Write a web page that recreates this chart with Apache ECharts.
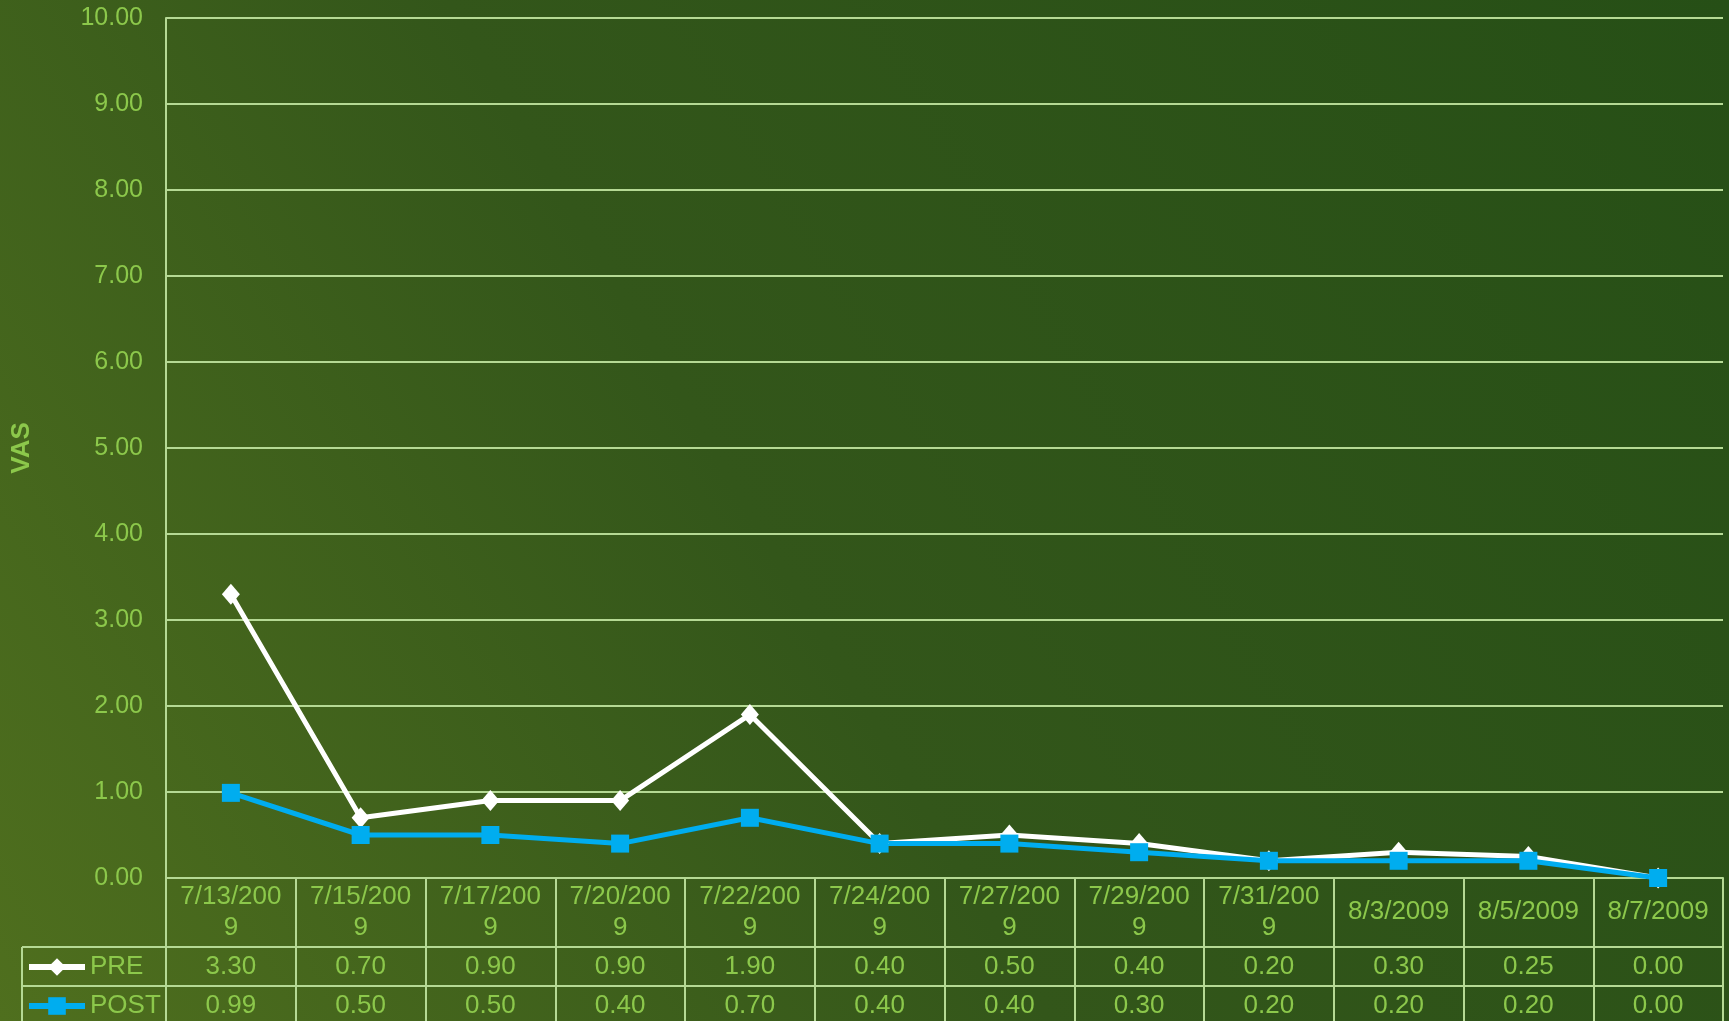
<!DOCTYPE html>
<html>
<head>
<meta charset="utf-8">
<style>
  html, body { margin: 0; padding: 0; background: #2f5418; }
  #chart { width: 1729px; height: 1021px; }
</style>
<script src="https://cdn.jsdelivr.net/npm/echarts@6/dist/echarts.min.js"></script>
</head>
<body>
<div id="chart"></div>
<script>
// data
const dates = ['7/13/2009', '7/15/2009', '7/17/2009', '7/20/2009', '7/22/2009', '7/24/2009',
  '7/27/2009', '7/29/2009', '7/31/2009', '8/3/2009', '8/5/2009', '8/7/2009'];
const pre = [3.30, 0.70, 0.90, 0.90, 1.90, 0.40, 0.50, 0.40, 0.20, 0.30, 0.25, 0.00];
const post = [0.99, 0.50, 0.50, 0.40, 0.70, 0.40, 0.40, 0.30, 0.20, 0.20, 0.20, 0.00];

// look
const TEXT = '#8cc84b';
const RULE = '#b5d994';
const FONT = '"Liberation Sans", Arial, sans-serif';
const GRID = { left: 166, right: 6, top: 18, bottom: 143 };
const ROW1 = 947, ROW2 = 986;   // table row borders (px)

const chart = echarts.init(document.getElementById('chart'));

// x axis used only as a label row of the data table
function tableAxis(values, margin) {
  return {
    type: 'category',
    position: 'bottom',
    data: values.map(v => v.toFixed(2)),
    axisLine: { show: false },
    axisTick: { show: false },
    axisLabel: {
      interval: 0, margin: margin, verticalAlign: 'middle',
      color: TEXT, fontSize: 26, fontFamily: FONT
    }
  };
}

// one legend row of the table
function tableLegend(name, top) {
  return {
    left: 26, top: top, padding: 0,
    itemWidth: 56, itemHeight: 22,
    lineStyle: { width: 6 },
    textStyle: { color: TEXT, fontSize: 26, fontFamily: FONT },
    data: [name]
  };
}

chart.setOption({
  backgroundColor: {
    type: 'linear', x: 0, y: 1, x2: 1, y2: 0,
    colorStops: [
      { offset: 0, color: '#4f6f1e' },
      { offset: 0.45, color: '#33561a' },
      { offset: 1, color: '#264f16' }
    ]
  },
  textStyle: { fontFamily: FONT },
  animation: false,
  grid: GRID,
  legend: [tableLegend('PRE', 954), tableLegend('POST', 993)],
  xAxis: [
    {
      type: 'category',
      data: dates,
      axisLine: { show: true, lineStyle: { color: RULE, width: 2 } },
      axisTick: { show: true, length: 143, interval: 0, lineStyle: { color: RULE, width: 2 } },
      axisLabel: {
        interval: 0, margin: 34, verticalAlign: 'middle', lineHeight: 31,
        color: TEXT, fontSize: 26, fontFamily: FONT,
        formatter: v => v.length > 8 ? v.slice(0, 8) + '\n' + v.slice(8) : v
      }
    },
    tableAxis(pre, 89),
    tableAxis(post, 128)
  ],
  yAxis: {
    type: 'value',
    min: 0, max: 10, interval: 1,
    name: 'VAS',
    nameLocation: 'middle',
    nameGap: 131,
    nameTextStyle: { color: TEXT, fontSize: 26, fontWeight: 'bold', fontFamily: FONT },
    axisLine: { show: true, lineStyle: { color: RULE, width: 2 } },
    axisTick: { show: false },
    axisLabel: {
      margin: 23, color: TEXT, fontSize: 25, fontFamily: FONT,
      formatter: v => v.toFixed(2)
    },
    splitLine: { lineStyle: { color: RULE, width: 2 } }
  },
  graphic: [
    { type: 'line', shape: { x1: 22, y1: ROW1, x2: 1723, y2: ROW1 }, style: { stroke: RULE, lineWidth: 2 } },
    { type: 'line', shape: { x1: 22, y1: ROW2, x2: 1723, y2: ROW2 }, style: { stroke: RULE, lineWidth: 2 } },
    { type: 'line', shape: { x1: 22, y1: ROW1, x2: 22, y2: 1021 }, style: { stroke: RULE, lineWidth: 2 } }
  ],
  series: [
    {
      name: 'PRE',
      type: 'line',
      data: pre,
      symbol: 'diamond',
      symbolSize: [18, 21],
      lineStyle: { color: '#ffffff', width: 5 },
      itemStyle: { color: '#ffffff' }
    },
    {
      name: 'POST',
      type: 'line',
      data: post,
      symbol: 'rect',
      symbolSize: 18,
      lineStyle: { color: '#00adef', width: 5 },
      itemStyle: { color: '#00adef' }
    }
  ]
});
</script>
</body>
</html>
